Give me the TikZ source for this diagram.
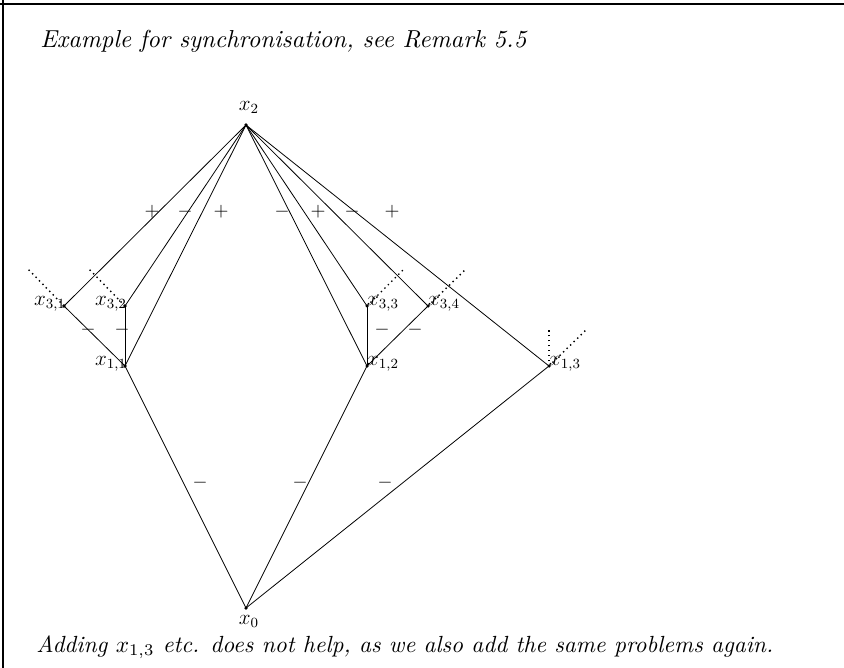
\documentclass[tikz,border=0pt]{standalone}
\usepackage{graphicx}
\usetikzlibrary{positioning}
\begin{document}
\begin{tikzpicture}[x=0.02cm,y=-0.02cm,
  pt/.style={circle,fill=black,inner sep=0pt,minimum size=2pt},
  lab/.style={inner sep=0.5pt,font=\fontsize{11.5}{13}\selectfont},
  edge/.style={line width=0.45pt},
  dotl/.style={dotted,line width=0.8pt},
  sgn/.style={inner sep=0pt,font=\fontsize{11}{13}\selectfont},
  txt/.style={inner sep=0pt,font=\itshape}]
\useasboundingbox (0,0) rectangle (844,668);
\draw[line width=0.6pt] (0,4) -- (844,4);
\draw[line width=0.6pt] (3,0) -- (3,668);
% nodes
\node[pt] (x2) at (246,125) {};
\node[pt] (x31) at (64,306) {};
\node[pt] (x32) at (125,306) {};
\node[pt] (x11) at (125,366) {};
\node[pt] (x33) at (367,306) {};
\node[pt] (x34) at (428,306) {};
\node[pt] (x12) at (367,366) {};
\node[pt] (x13) at (549,366) {};
\node[pt] (x0) at (246,608) {};
% labels
\node[lab,anchor=south] (lx2) at (249,115) {$x_2$};
\node[lab,anchor=north] (lx0) at (249,614) {$x_0$};
\node[lab,anchor=east] (lx31) at (67,304) {$x_{3,1}$};
\node[lab,anchor=east] (lx32) at (128,304) {$x_{3,2}$};
\node[lab,anchor=east] (lx11) at (128,364) {$x_{1,1}$};
\node[lab,anchor=west] (lx33) at (366,304) {$x_{3,3}$};
\node[lab,anchor=west] (lx34) at (427,304) {$x_{3,4}$};
\node[lab,anchor=west] (lx12) at (366,364) {$x_{1,2}$};
\node[lab,anchor=west] (lx13) at (548,364) {$x_{1,3}$};
% edges
\foreach \t in {x31,x32,x11,x12,x33,x34,x13} \draw[edge] (x2.center) -- (\t.center);
\draw[edge] (x31.center) -- (x11.center);
\draw[edge] (x32.center) -- (x11.center);
\draw[edge] (x33.center) -- (x12.center);
\draw[edge] (x34.center) -- (x12.center);
\foreach \t in {x11,x12,x13} \draw[edge] (\t.center) -- (x0.center);
% dotted
\coordinate (d31) at (27,268);
\coordinate (d32) at (88,268);
\coordinate (d33) at (404,269);
\coordinate (d34) at (466,269);
\coordinate (d13a) at (549,329);
\coordinate (d13b) at (587,329);
\draw[dotl] (x31.center) -- (d31);
\draw[dotl] (x32.center) -- (d32);
\draw[dotl] (x33.center) -- (d33);
\draw[dotl] (x34.center) -- (d34);
\draw[dotl] (x13.center) -- (d13a);
\draw[dotl] (x13.center) -- (d13b);
% signs
\node[sgn] (s1) at (152,212) {$+$};
\node[sgn] (s2) at (185,212) {$-$};
\node[sgn] (s3) at (221,212) {$+$};
\node[sgn] (s4) at (282,212) {$-$};
\node[sgn] (s5) at (318,212) {$+$};
\node[sgn] (s6) at (352,212) {$-$};
\node[sgn] (s7) at (392,212) {$+$};
\node[sgn] (s8) at (88,330) {$-$};
\node[sgn] (s9) at (122,330) {$-$};
\node[sgn] (s10) at (382,330) {$-$};
\node[sgn] (s11) at (415,330) {$-$};
\node[sgn] (s12) at (200,483) {$-$};
\node[sgn] (s13) at (300,483) {$-$};
\node[sgn] (s14) at (385,483) {$-$};
% texts
\node[txt,anchor=base west] (title) at (40,48) {\resizebox{9.72cm}{!}{\itshape Example for synchronisation, see Remark 5.5}};
\node[txt,anchor=base west] (foot) at (36,652) {\resizebox{14.74cm}{!}{\itshape Adding $x_{1,3}$ etc. does not help, as we also add the same problems again.}};
\end{tikzpicture}
\end{document}
